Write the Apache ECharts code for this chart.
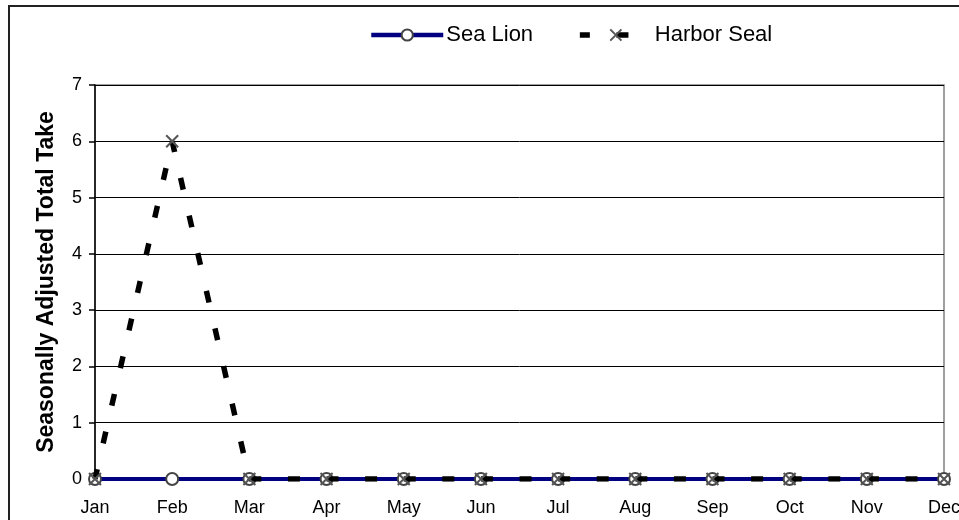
<!DOCTYPE html>
<html><head><meta charset="utf-8">
<script src="https://cdn.jsdelivr.net/npm/echarts@6/dist/echarts.min.js"></script>
<style>html,body{margin:0;padding:0;background:#fff}#c{width:959px;height:520px}</style>
</head><body><div id="c"></div>
<script>
const months = ['Jan','Feb','Mar','Apr','May','Jun','Jul','Aug','Sep','Oct','Nov','Dec'];
const seaLion = [0,0,0,0,0,0,0,0,0,0,0,0];
const harborSeal = [0,6,0,0,0,0,0,0,0,0,0,0];
const yTicks = [0,1,2,3,4,5,6,7];

const FONT = 'Liberation Sans, Arial, sans-serif';
const chart = echarts.init(document.getElementById('c'), null, {renderer:'canvas'});
const xPath = 'path://M0,0L10,10M10,0L0,10';
chart.setOption({
  animation:false,
  textStyle:{fontFamily:FONT},
  graphic:[{type:'rect', shape:{x:9,y:6,width:1000,height:600}, style:{fill:'none',stroke:'#222',lineWidth:2}, z:-10}],
  legend:{
    left:369, top:24, padding:0, itemWidth:72, itemHeight:14, itemGap:44,
    textStyle:{fontSize:22, color:'#000', fontFamily:FONT, padding:[0,0,0,-2]},
    data:[
      {name:'Sea Lion', lineStyle:{width:4.5}},
      {name:'Harbor Seal', lineStyle:{width:5.5}}
    ]
  },
  grid:{left:95,right:15,top:85,bottom:41,show:true,borderColor:'#808080',borderWidth:1.5,backgroundColor:'transparent',outerBoundsMode:'none',containLabel:false},
  xAxis:{
    type:'category', data:months, boundaryGap:false,
    axisLine:{show:true,lineStyle:{color:'#000',width:1}},
    axisTick:{show:false},
    axisLabel:{color:'#000',fontSize:18,margin:20,interval:0,fontFamily:FONT,hideOverlap:false},
    splitLine:{show:false}
  },
  yAxis:{
    type:'value', min:yTicks[0], max:yTicks[yTicks.length-1], interval:1,
    name:'Seasonally Adjusted Total Take', nameLocation:'middle', nameGap:37,
    nameTextStyle:{fontSize:23,fontWeight:'bold',color:'#000',fontFamily:FONT},
    axisLine:{show:true,lineStyle:{color:'#000',width:1.5}},
    axisTick:{show:true,length:6,lineStyle:{color:'#000',width:1.5}},
    axisLabel:{color:'#000',fontSize:18,margin:13,fontFamily:FONT},
    splitLine:{show:true,lineStyle:{color:'#000',width:1}}
  },
  series:[
    {name:'Sea Lion', type:'line', data:seaLion, z:3,
     symbol:'circle', symbolSize:12, showAllSymbol:true,
     lineStyle:{color:'#000080',width:4},
     itemStyle:{color:'#fff',borderColor:'#444',borderWidth:2}},
    {name:'Harbor Seal', type:'line', data:harborSeal, z:4,
     symbol:xPath, symbolSize:12, showAllSymbol:true,
     lineStyle:{color:'#000',width:5.5,type:[12,26.6],dashOffset:2},
     itemStyle:{color:'#000',borderColor:'#555',borderWidth:2}}
  ]
});
</script></body></html>
